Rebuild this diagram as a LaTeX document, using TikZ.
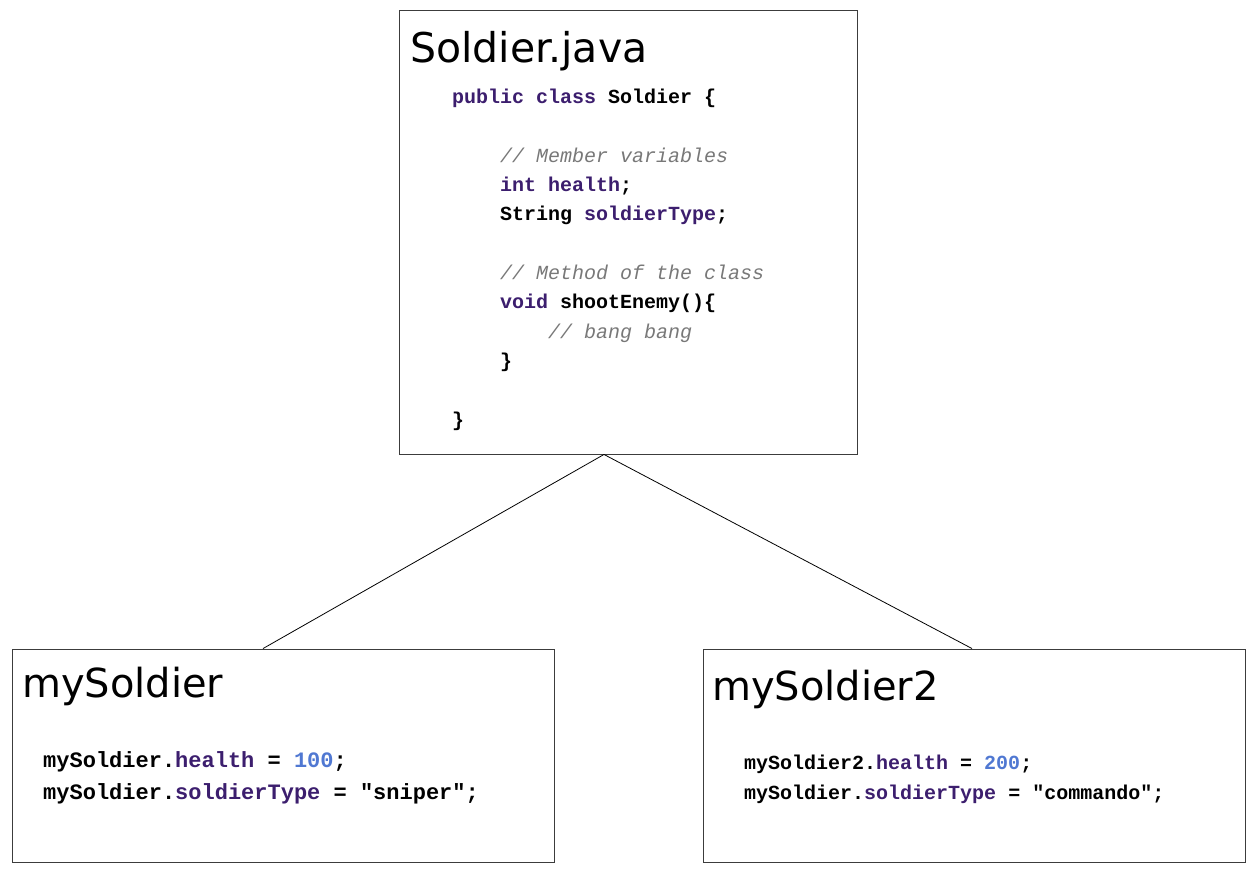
\documentclass[tikz,border=0pt]{standalone}
\usepackage{fontspec}
\setmainfont{DejaVu Sans}
\setmonofont{Liberation Mono}
\usetikzlibrary{positioning}
\definecolor{kwcol}{RGB}{60,30,110}
\definecolor{numcol}{RGB}{80,120,210}
\definecolor{cmtcol}{RGB}{120,120,120}
\definecolor{boxcol}{RGB}{60,60,60}
\newcommand{\kw}[1]{\textcolor{kwcol}{#1}}
\newcommand{\num}[1]{\textcolor{numcol}{#1}}
\newcommand{\cmt}[1]{\textcolor{cmtcol}{\mdseries\itshape #1}}

\begin{document}
\begin{tikzpicture}[x=1pt, y=-1pt,
    objbox/.style={draw=boxcol, line width=0.9pt, inner sep=0pt},
    title/.style={anchor=base west, inner sep=0pt},
    code/.style={anchor=north west, inner sep=0pt, align=left, font=\ttfamily\bfseries}]
        \useasboundingbox (0,0) rectangle (1255,871);
        % class box
        \node[objbox, minimum width=458pt, minimum height=444pt] (soldier) at (628,232) {};
        \node[title, font=\fontsize{41}{48}\selectfont] (soldiertitle) at (410,62) {Soldier.java};
        \node[code, font=\ttfamily\bfseries\fontsize{20}{29.3}\selectfont] (soldiercode) at (452,89) {%
            \kw{public class} Soldier \{\\
            ~\\
            ~~~~\cmt{// Member variables}\\
            ~~~~\kw{int health};\\
            ~~~~String \kw{soldierType};\\
            ~\\
            ~~~~\cmt{// Method of the class}\\
            ~~~~\kw{void} shootEnemy()\{\\
            ~~~~~~~~\cmt{// bang bang}\\
            ~~~~\}\\
            ~\\
            \}};

        % objects
        \node[objbox, minimum width=542pt, minimum height=213pt] (mysoldier) at (283,755.5) {};
        \node[title, font=\fontsize{40}{48}\selectfont] (mysoldiertitle) at (22,697) {mySoldier};
        \node[code, font=\ttfamily\bfseries\fontsize{22}{32}\selectfont] (mysoldiercode) at (43,751) {%
            mySoldier.\kw{health} = \num{100};\\
            mySoldier.\kw{soldierType} = "sniper";};

        \node[objbox, minimum width=542pt, minimum height=213pt] (mysoldier2) at (974,755.5) {};
        \node[title, font=\fontsize{40}{48}\selectfont] (mysoldier2title) at (712,700) {mySoldier2};
        \node[code, font=\ttfamily\bfseries\fontsize{20}{30}\selectfont] (mysoldier2code) at (744,755) {%
            mySoldier2.\kw{health} = \num{200};\\
            mySoldier.\kw{soldierType} = "commando";};

        \draw[line width=0.8pt] ([xshift=-24pt]soldier.south) -- ([xshift=-20pt]mysoldier.north);
        \draw[line width=0.8pt] ([xshift=-24pt]soldier.south) -- ([xshift=-2pt]mysoldier2.north);
    \end{tikzpicture}
\end{document}
